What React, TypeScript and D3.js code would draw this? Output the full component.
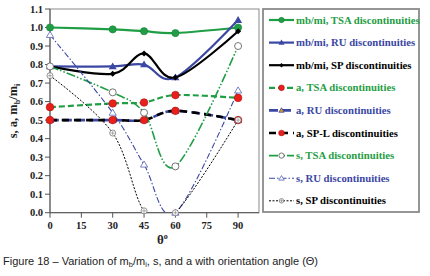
import React from "react";
import * as d3 from "d3";

const thetas = [0, 30, 45, 60, 90];
const xTicks = [0, 15, 30, 45, 60, 75, 90];
const yTicks = [0, 0.1, 0.2, 0.3, 0.4, 0.5, 0.6, 0.7, 0.8, 0.9, 1.0, 1.1];

const mbTSA = [1.0, 0.99, 0.98, 0.97, 1.0];
const mbRU = [0.79, 0.79, 0.8, 0.73, 1.04];
const mbSP = [0.79, 0.75, 0.86, 0.73, 0.98];
const aTSA = [0.57, 0.59, 0.595, 0.635, 0.62];
const aRU = [0.5, 0.5, 0.5, 0.55, 0.5];
const aSPL = [0.5, 0.5, 0.5, 0.55, 0.5];
const sTSA = [0.79, 0.65, 0.54, 0.25, 0.9];
const sRU = [0.96, 0.54, 0.26, 0.0, 0.66];
const sSP = [0.74, 0.43, 0.01, 0.0, 0.5];

const GREEN = "#1f9e45";
const BLUE = "#3a47a3";
const BLACK = "#000000";
const RED = "#e8201c";
const ORANGE = "#e0a020";

type Marker = "circle" | "triangle" | "diamond" | "ocircle" | "otriangle" | "odiamond" | "rcircle" | "rsmall" | "otri2";

interface Series {
  name: string;
  values: number[];
  color: string;
  textColor: string;
  width: number;
  dash: string;
  marker: Marker;
}

const series: Series[] = [
  { name: "mb/mi, TSA discontinuities", values: mbTSA, color: GREEN, textColor: GREEN, width: 2.2, dash: "", marker: "circle" },
  { name: "mb/mi, RU discontinuities", values: mbRU, color: BLUE, textColor: BLUE, width: 2.2, dash: "", marker: "triangle" },
  { name: "mb/mi, SP discontinuities", values: mbSP, color: BLACK, textColor: BLACK, width: 2.2, dash: "", marker: "diamond" },
  { name: "a, TSA discontinuities", values: aTSA, color: GREEN, textColor: GREEN, width: 2.2, dash: "6,3", marker: "rcircle" },
  { name: "a, RU discontinuities", values: aRU, color: BLUE, textColor: BLUE, width: 2.6, dash: "9,4", marker: "otri2" },
  { name: "a, SP-L discontinuities", values: aSPL, color: BLACK, textColor: BLACK, width: 2.6, dash: "7,5", marker: "rsmall" },
  { name: "s, TSA discontinuities", values: sTSA, color: GREEN, textColor: GREEN, width: 1.6, dash: "9,2,1.5,2,1.5,2", marker: "ocircle" },
  { name: "s, RU discontinuities", values: sRU, color: BLUE, textColor: BLUE, width: 1.1, dash: "6,2,1.5,2", marker: "otriangle" },
  { name: "s, SP discontinuities", values: sSP, color: BLACK, textColor: BLACK, width: 1, dash: "2,1.5", marker: "odiamond" },
];

const W = 430;
const H = 276;
const left = 50;
const right = 259;
const top = 9;
const bottom = 212.7;

function drawMarker(m: Marker, x: number, y: number, s: number, key: string) {
  switch (m) {
    case "circle":
      return <circle key={key} cx={x} cy={y} r={3.6 * s} fill={GREEN} stroke="#17803a" strokeWidth={0.6} />;
    case "triangle": {
      const r = 4 * s;
      return <path key={key} d={`M${x},${y - r}L${x + r},${y + r * 0.7}L${x - r},${y + r * 0.7}Z`} fill={BLUE} />;
    }
    case "diamond": {
      const r = 3 * s;
      return <path key={key} d={`M${x},${y - r}L${x + r},${y}L${x},${y + r}L${x - r},${y}Z`} fill={BLACK} />;
    }
    case "rcircle":
      return <circle key={key} cx={x} cy={y} r={3.8 * s} fill={RED} stroke="#b01010" strokeWidth={0.6} />;
    case "rsmall":
      return <circle key={key} cx={x} cy={y} r={3.8 * s} fill={RED} stroke="#b01010" strokeWidth={0.6} />;
    case "otri2": {
      const r = 3.5 * s;
      return <path key={key} d={`M${x},${y - r}L${x + r},${y + r * 0.7}L${x - r},${y + r * 0.7}Z`} fill={ORANGE} stroke={BLUE} strokeWidth={0.8} />;
    }
    case "ocircle":
      return <circle key={key} cx={x} cy={y} r={3.5 * s} fill="#fff" stroke="#666" strokeWidth={0.9} />;
    case "otriangle": {
      const r = 3.6 * s;
      return <path key={key} d={`M${x},${y - r}L${x + r},${y + r * 0.7}L${x - r},${y + r * 0.7}Z`} fill="#fff" stroke="#6a74c0" strokeWidth={0.9} />;
    }
    case "odiamond":
      return (
        <g key={key}>
          <circle cx={x} cy={y} r={3 * s} fill="#fff" stroke="#777" strokeWidth={0.8} />
          <path d={`M${x - 2 * s},${y}L${x + 2 * s},${y}M${x},${y - 2 * s}L${x},${y + 2 * s}`} stroke="#777" strokeWidth={0.6} />
        </g>
      );
  }
  return null;
}

export default function App() {
  const x = d3.scaleLinear().domain([0, 100]).range([left, right]);
  const y = d3.scaleLinear().domain([0, 1.1]).range([bottom, top]);
  const line = d3
    .line<[number, number]>()
    .x((d) => x(d[0]))
    .y((d) => y(d[1]))
    .curve(d3.curveCardinal.tension(0));

  const legX = 263;
  const legY = 9;
  const legW = 156;
  const legH = 203;
  const legRow0 = 20;
  const legStep = 22.6;

  return (
    <svg
      width={W}
      height={H}
      style={{ position: "absolute", left: 0, top: 0, background: "#fff" }}
      fontFamily="Liberation Serif, Times New Roman, serif"
    >
      <defs>
        <clipPath id="plotclip">
          <rect x={left} y={top} width={right - left} height={bottom - top} />
        </clipPath>
      </defs>
      <rect x={0} y={0} width={W} height={H} fill="#fff" />
      {/* plot frame */}
      <rect x={left} y={top} width={right - left} height={bottom - top} fill="none" stroke="#8a8a8a" strokeWidth={1} />
      {/* axes */}
      <line x1={left} x2={left} y1={top} y2={bottom} stroke="#555" strokeWidth={1} />
      <line x1={left} x2={right} y1={bottom} y2={bottom} stroke="#555" strokeWidth={1} />
      {yTicks.map((t) => (
        <g key={"y" + t}>
          <line x1={left - 5} x2={left} y1={y(t)} y2={y(t)} stroke="#555" />
          <text x={left - 7} y={y(t) + 3.5} textAnchor="end" fontSize={10.5} fontWeight="bold" fill="#222">
            {t.toFixed(1)}
          </text>
        </g>
      ))}
      {xTicks.map((t) => (
        <g key={"x" + t}>
          <line x1={x(t)} x2={x(t)} y1={bottom} y2={bottom + 5} stroke="#555" />
          <text x={x(t)} y={bottom + 16} textAnchor="middle" fontSize={10.5} fontWeight="bold" fill="#222">
            {t}
          </text>
        </g>
      ))}
      {/* axis titles */}
      <text x={157} y={244} fontSize={13} fontWeight="bold" fill="#222">
        θ<tspan dy={-5} fontSize={8}>o</tspan>
      </text>
      <text transform="translate(17,111) rotate(-90)" textAnchor="middle" fontSize={12.5} fontWeight="bold" fill="#222">
        s, a, m<tspan dy={3} fontSize={8}>b</tspan>
        <tspan dy={-3}>/m</tspan>
        <tspan dy={3} fontSize={8}>i</tspan>
      </text>
      {/* series */}
      <g clipPath="url(#plotclip)">
        {series.map((s) => (
          <path
            key={s.name}
            d={line(thetas.map((t, i) => [t, s.values[i]] as [number, number])) || ""}
            fill="none"
            stroke={s.color}
            strokeWidth={s.width}
            strokeDasharray={s.dash}
          />
        ))}
      </g>
      {series.map((s) => (
        <g key={s.name + "m"}>
          {thetas.map((t, i) => drawMarker(s.marker, x(t), y(s.values[i]), 1, s.name + i))}
        </g>
      ))}
      {/* legend */}
      <rect x={legX} y={legY} width={legW} height={legH} fill="#fff" stroke="#8a8a8a" strokeWidth={1.8} />
      {series.map((s, i) => {
        const ly = legRow0 + i * legStep;
        return (
          <g key={s.name + "leg"}>
            <line x1={269} x2={294} y1={ly} y2={ly} stroke={s.color} strokeWidth={s.width} strokeDasharray={s.dash} />
            {drawMarker(s.marker, 281.5, ly, 0.75, s.name + "lm")}
            <text x={296} y={ly + 3.5} fontSize={10.7} fontWeight="bold" fill={s.textColor}>
              {s.name}
            </text>
          </g>
        );
      })}
      {/* caption */}
      <text x={3} y={265} fontSize={11} fill="#222" fontFamily="Liberation Sans, Arial, sans-serif">
        Figure 18 – Variation of m<tspan dy={2} fontSize={7.5}>b</tspan>
        <tspan dy={-2}>/m</tspan>
        <tspan dy={2} fontSize={7.5}>i</tspan>
        <tspan dy={-2}>, s, and a with orientation angle (Θ)</tspan>
      </text>
    </svg>
  );
}
